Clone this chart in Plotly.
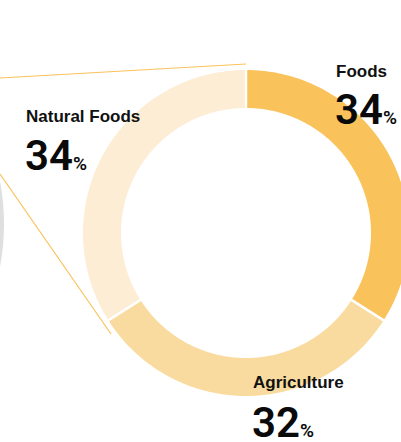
import numpy as np
import plotly.graph_objects as go

# ---- data ----
categories = ["Foods", "Agriculture", "Natural Foods"]
values = [34, 32, 34]
colors = ["#F9C25B", "#FADB9F", "#FDEDD4"]

# ---- layout constants (pixels) ----
W, H = 401, 442
CX, CY = 246, 233
R_OUT, R_IN = 163, 125
label_pos = {  # (x_left, label_cap_center_y, number_center_y)
    "Foods": (336, 71, 109.5),
    "Agriculture": (253, 382.5, 422),
    "Natural Foods": (26, 116.5, 155.5),
}

fig = go.Figure()

# left grey (source) circle, partially visible
fig.add_shape(type="circle", xref="x", yref="y", x0=-462, x1=4, y0=-9, y1=457,
              fillcolor="#DEDFDF", line=dict(width=0), layer="below")
# connector lines
fig.add_shape(type="line", xref="x", yref="y", x0=0, y0=78, x1=246, y1=64,
              line=dict(color="#F9C25B", width=1.2))
fig.add_shape(type="line", xref="x", yref="y", x0=0, y0=174, x1=111, y1=334,
              line=dict(color="#F9C25B", width=1.2))

total = float(sum(values))
start = 0.0
boundaries = []
for cat, v, col in zip(categories, values, colors):
    a0 = start / total * 2 * np.pi
    a1 = (start + v) / total * 2 * np.pi
    t = np.linspace(a0, a1, 240)
    xo = CX + R_OUT * np.sin(t)
    yo = CY - R_OUT * np.cos(t)
    xi = CX + R_IN * np.sin(t[::-1])
    yi = CY - R_IN * np.cos(t[::-1])
    fig.add_trace(go.Scatter(
        x=np.r_[xo, xi, xo[:1]], y=np.r_[yo, yi, yo[:1]],
        fill="toself", fillcolor=col, mode="none", name=cat,
        hoverinfo="name", showlegend=False))
    boundaries.append(a0)
    start += v

# white separators between slices
for a in boundaries:
    fig.add_trace(go.Scatter(
        x=[CX + (R_IN - 2) * np.sin(a), CX + (R_OUT + 2) * np.sin(a)],
        y=[CY - (R_IN - 2) * np.cos(a), CY - (R_OUT + 2) * np.cos(a)],
        mode="lines", line=dict(color="white", width=2.5),
        hoverinfo="skip", showlegend=False))

# labels
for cat, v in zip(categories, values):
    x, ly, ny = label_pos[cat]
    fig.add_annotation(x=x, y=ly, xref="x", yref="y", text=f"<b>{cat}</b>",
                       showarrow=False, xanchor="left", yanchor="middle",
                       borderpad=0, borderwidth=0,
                       font=dict(family="Liberation Sans", size=17, color="#111111"))
    fig.add_annotation(x=x - 1, y=ny, xref="x", yref="y",
                       text=f"{v}<span style='font-size:19px'>%</span>",
                       showarrow=False, xanchor="left", yanchor="middle",
                       borderpad=0, borderwidth=0,
                       font=dict(family="Roboto", size=42, color="#0a0a0a", weight=600))

fig.update_xaxes(range=[0, W], visible=False, fixedrange=True)
fig.update_yaxes(range=[H, 0], visible=False, fixedrange=True)
fig.update_layout(width=W, height=H, margin=dict(l=0, r=0, t=0, b=0),
                  paper_bgcolor="white", plot_bgcolor="white", showlegend=False)

fig.write_html("out.html")
